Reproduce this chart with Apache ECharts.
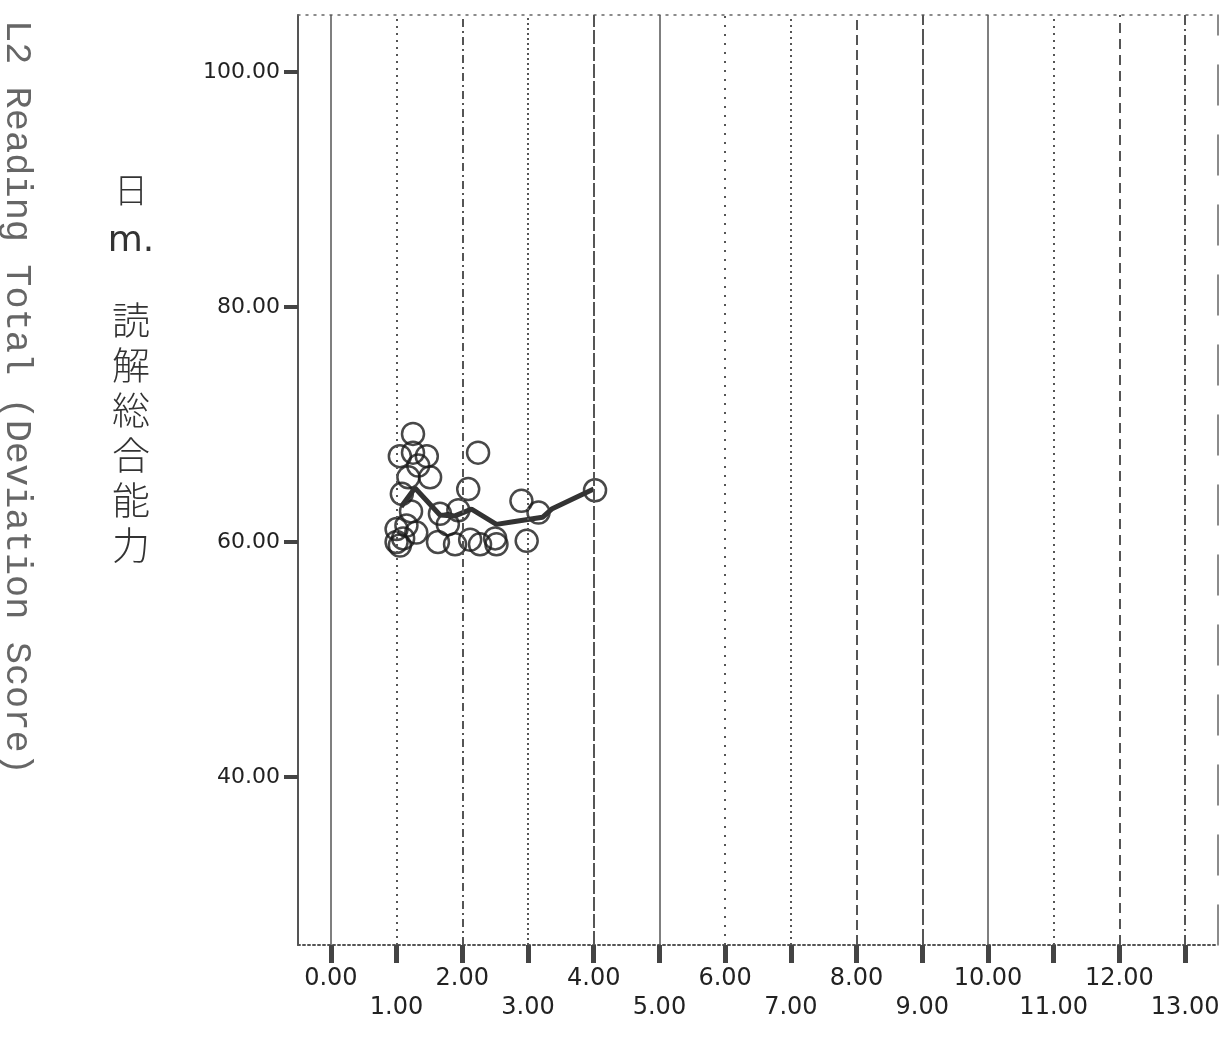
<!DOCTYPE html>
<html>
<head>
<meta charset="utf-8">
<script src="https://cdn.jsdelivr.net/npm/echarts@6/dist/echarts.min.js"></script>
<style>
html,body{margin:0;padding:0;background:#fff;}
#c{width:1225px;height:1039px;}
</style>
</head>
<body>
<div id="c"></div>
<script>
// ---- data ----
const xTicks = [0,1,2,3,4,5,6,7,8,9,10,11,12,13];
const yTicks = [40,60,80,100];
const scatterX = [1.25,1.05,1.25,1.46,1.33,1.18,1.51,1.08,2.09,2.24,1.15,1.05,1.00,1.10,1.30,1.66,1.94,1.63,1.89,2.27,2.52,1.00,2.90,3.16,2.98,2.50,4.02,1.22,1.78,2.12];
const scatterY = [69.2,67.3,67.6,67.3,66.5,65.5,65.5,64.1,64.5,67.6,61.4,59.7,60.0,60.3,60.8,62.4,62.7,60.0,59.8,59.8,59.8,61.1,63.5,62.5,60.1,60.3,64.4,62.6,61.5,60.2];
const meanX = [1.07,1.28,1.66,1.88,2.14,2.52,2.75,3.22,3.36,4.00];
const meanY = [63.0,64.6,62.3,62.2,62.8,61.5,61.7,62.1,62.8,64.5];
const yTitle = 'L2 Reading Total (Deviation Score)';
const yTitleJa1 = '日';
const yTitleJa2 = 'm.';
const yTitleJa3 = '読解総合能力';

// ---- styles (not data) ----
const gridLineTypes = ['solid',[2,5],[8,4,2,4],[2,3],[14,3],'solid',[2,7],[2,4],[10,5],[16,4],'solid',[2,5],[10,6],[10,4,2,4]];

const evenTicks = xTicks.filter(v => v % 2 === 0);
const oddTicks = xTicks.filter(v => v % 2 === 1);

const chart = echarts.init(document.getElementById('c'), null, {renderer:'canvas'});
const scatterData = scatterX.map((x,i)=>[x, scatterY[i]]);
const meanData = meanX.map((x,i)=>[x, meanY[i]]);

const X_MIN = -0.5, X_MAX = 13.5, Y_MIN = 25.70, Y_MAX = 104.85;
const labelFont = {color:'#222', fontFamily:'DejaVu Sans', fontSize:24};
const tickStyle = {show:true, inside:false, length:18, lineStyle:{color:'#444', width:5}};

const option = {
  animation:false,
  backgroundColor:'#fff',
  grid:[
    {left:298, right:7, top:15, bottom:94, show:false},
    {left:298, right:7, top:15, bottom:94, show:false}
  ],
  xAxis:[{
    gridIndex:0, type:'value', min:X_MIN, max:X_MAX, position:'bottom',
    axisLine:{show:true, onZero:false, lineStyle:{color:'#555', width:2, type:[2,3]}},
    axisTick:Object.assign({customValues:evenTicks}, tickStyle),
    axisLabel:Object.assign({show:true, customValues:evenTicks, showMinLabel:true, showMaxLabel:true, margin:22,
      formatter:(v)=> Number(v).toFixed(2)}, labelFont),
    splitLine:{show:false}
  },{
    gridIndex:0, type:'value', min:X_MIN, max:X_MAX, position:'top',
    axisLine:{show:true, onZero:false, lineStyle:{color:'#666', width:1.5, type:[2,6]}},
    axisTick:{show:false}, axisLabel:{show:false}, splitLine:{show:false}
  },{
    gridIndex:1, type:'value', min:X_MIN, max:X_MAX, position:'bottom',
    axisLine:{show:false, onZero:false},
    axisTick:Object.assign({customValues:oddTicks}, tickStyle),
    axisLabel:Object.assign({show:true, customValues:oddTicks, showMinLabel:true, showMaxLabel:true, margin:51,
      formatter:(v)=> Number(v).toFixed(2)}, labelFont),
    splitLine:{show:false}
  }],
  yAxis:[{
    gridIndex:0, type:'value', min:Y_MIN, max:Y_MAX, position:'left',
    axisLine:{show:true, onZero:false, lineStyle:{color:'#555', width:2}},
    axisTick:{show:true, inside:false, length:14, customValues:yTicks, lineStyle:{color:'#444', width:4}},
    axisLabel:{show:true, customValues:yTicks, showMinLabel:true, showMaxLabel:true, margin:18, color:'#222', fontFamily:'DejaVu Sans', fontSize:22,
      formatter:(v)=> Number(v).toFixed(2)},
    splitLine:{show:false}
  },{
    gridIndex:0, type:'value', min:Y_MIN, max:Y_MAX, position:'right',
    axisLine:{show:true, onZero:false, lineStyle:{color:'#666', width:1.5, type:[40,30]}},
    axisTick:{show:false}, axisLabel:{show:false}, splitLine:{show:false}
  },{
    gridIndex:1, type:'value', min:Y_MIN, max:Y_MAX, show:false
  }],
  series:[{
    type:'scatter',
    xAxisIndex:0, yAxisIndex:0,
    data:scatterData,
    symbol:'circle', symbolSize:22,
    itemStyle:{color:'rgba(255,255,255,0)', borderColor:'#1a1a1a', borderWidth:2.5},
    z:3,
    markLine:{
      silent:true, symbol:['none','none'], label:{show:false},
      data: xTicks.map((v,i)=>({xAxis:v, lineStyle:{color:'#555', width: gridLineTypes[i]==='solid'?1.5:2, type:gridLineTypes[i]}}))
    }
  },{
    type:'line',
    xAxisIndex:0, yAxisIndex:0,
    data:meanData,
    showSymbol:false, symbol:'none',
    lineStyle:{color:'#333', width:5},
    z:4
  }],
  graphic:[
    {type:'text', x:17, y:20, rotation:-Math.PI/2, style:{text:yTitle, fontFamily:'Liberation Mono', fontSize:37, fill:'#666', textAlign:'left', textVerticalAlign:'middle'}},
    {type:'text', x:131, y:190, style:{text:yTitleJa1, fontFamily:'Noto Sans CJK JP', fontWeight:300, fontSize:34, fill:'#333', textAlign:'center', textVerticalAlign:'middle'}},
    {type:'text', x:131, y:242, style:{text:yTitleJa2, fontFamily:'DejaVu Sans', fontSize:36, fill:'#333', textAlign:'center', textVerticalAlign:'middle'}},
    {type:'text', x:131, y:297, style:{text:yTitleJa3.split('').join('\n'), fontFamily:'Noto Sans CJK JP', fontWeight:300, fontSize:38, lineHeight:45, fill:'#333', textAlign:'center', textVerticalAlign:'top'}}
  ]
};
chart.setOption(option);
</script>
</body>
</html>
